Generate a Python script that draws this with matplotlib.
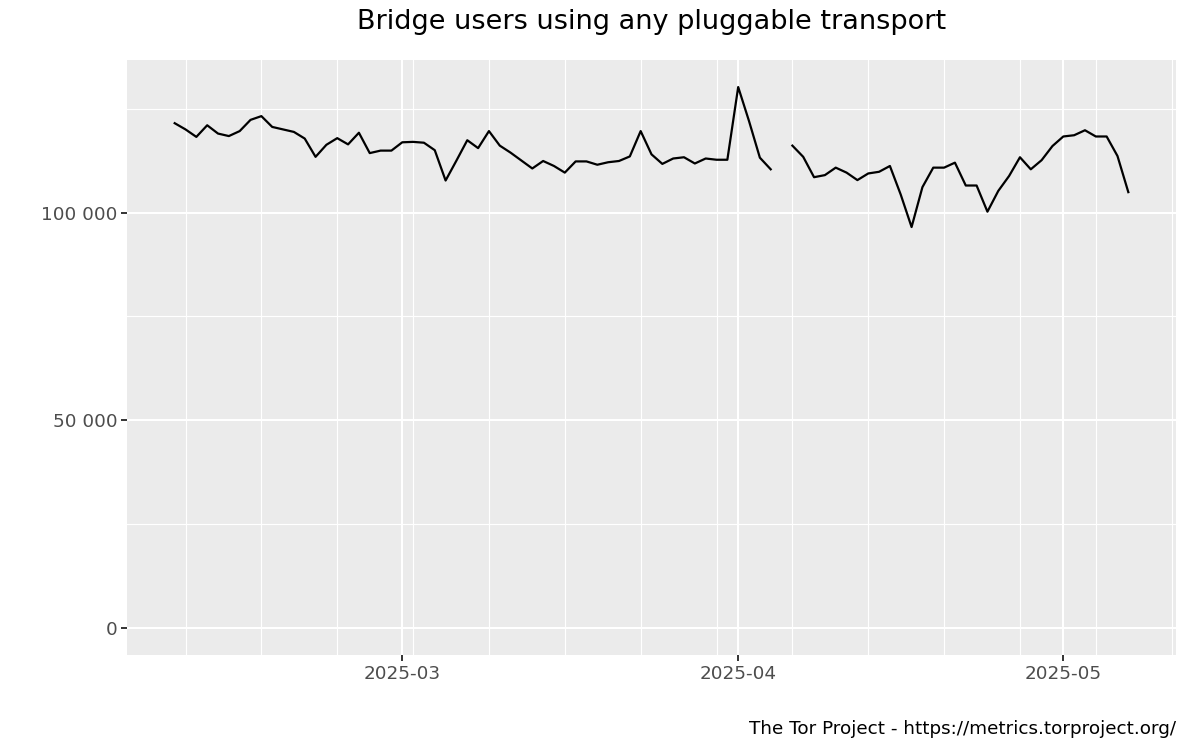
import numpy as np
import pandas as pd
import matplotlib
matplotlib.use("Agg")
import matplotlib.pyplot as plt
import matplotlib.dates as mdates
from matplotlib.ticker import FixedLocator, FuncFormatter

# daily bridge users, 2025-02-08 .. 2025-05-07 (Apr 5 missing)
START = "2025-02-08"
END = "2025-05-07"
feb_users = [121500, 120000, 118200, 121000, 119000, 118400, 119600, 122300,
             123200, 120600, 120000, 119400, 117800, 113400, 116300, 117900,
             116400, 119200, 114300, 114900, 114900]
mar_users = [116900, 117000, 116800, 115000, 107700, 112500, 117400, 115500,
             119600, 116100, 114400, 112500, 110600, 112400, 111200, 109600,
             112300, 112300, 111500, 112100, 112400, 113500, 119600, 114000,
             111700, 113000, 113300, 111800, 113000, 112700, 112700]
apr_users = [130200, 122000, 113200, 110400, np.nan, 116100, 113400, 108500,
             109000, 110800, 109600, 107800, 109400, 109800, 111200, 104300,
             96500, 106100, 110800, 110800, 112000, 106500, 106500, 100200,
             105200, 108800, 113300, 110400, 112600, 116000]
may_users = [118300, 118600, 119800, 118300, 118300, 113600, 104900]

y_breaks = [0, 50000, 100000]
y_minor = [25000, 75000, 125000]
month_ticks = ["2025-03-01", "2025-04-01", "2025-05-01"]

TITLE = "Bridge users using any pluggable transport"
CAPTION = "The Tor Project - https://metrics.torproject.org/"

PANEL = "#EBEBEB"
AXTXT = "#4D4D4D"

dates = pd.date_range(START, END, freq="D")
users = np.array(feb_users + mar_users + apr_users + may_users, dtype=float)

fig = plt.figure(figsize=(12, 7.5), dpi=100)
ax = fig.add_axes([127 / 1200, 1 - 655 / 750, 1049 / 1200, 595 / 750])
ax.set_facecolor(PANEL)
for s in ax.spines.values():
    s.set_visible(False)

# ggplot-like 5% expansion, y includes zero
x0 = mdates.date2num(dates[0])
x1 = mdates.date2num(dates[-1])
dx = (x1 - x0) * 0.05
ax.set_xlim(x0 - dx, x1 + dx)
ymax = np.nanmax(users)
ax.set_ylim(-0.05 * ymax, ymax * 1.05)

ax.xaxis.set_major_locator(FixedLocator(mdates.date2num(pd.to_datetime(month_ticks))))
ax.xaxis.set_major_formatter(mdates.DateFormatter("%Y-%m"))
sundays = pd.date_range(START, "2025-05-12", freq="W-SUN")
ax.xaxis.set_minor_locator(FixedLocator(mdates.date2num(sundays)))

ax.yaxis.set_major_locator(FixedLocator(y_breaks))
ax.yaxis.set_minor_locator(FixedLocator(y_minor))
ax.yaxis.set_major_formatter(FuncFormatter(lambda v, p: f"{int(v):,}".replace(",", " ")))

ax.grid(which="major", color="white", linewidth=1.5)
ax.grid(which="minor", color="white", linewidth=0.8)
ax.set_axisbelow(True)

ax.tick_params(which="major", length=4, width=1.4, color="#333333",
               labelsize=13.2, labelcolor=AXTXT, pad=3)
ax.tick_params(which="minor", length=0)

ax.plot(dates, users, color="black", linewidth=1.6)

fig.text((127 + 1176) / 2 / 1200, 1 - 22 / 750, TITLE, ha="center", va="center",
         fontsize=19.5, color="black")
fig.text(1176 / 1200, 1 - 729 / 750, CAPTION, ha="right", va="center",
         fontsize=13.2, color="black")

fig.savefig("out.png", dpi=100)
